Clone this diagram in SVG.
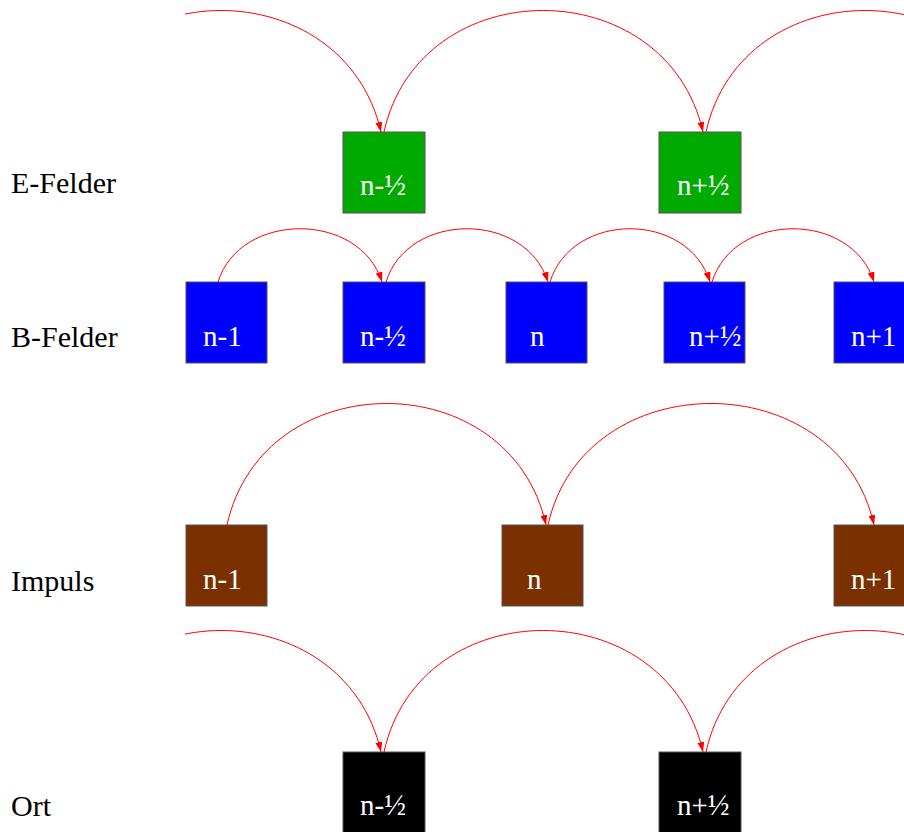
<svg xmlns="http://www.w3.org/2000/svg" width="904" height="832" viewBox="0 0 904 832">
<style>
text{font-family:'Liberation Serif','Times New Roman',Tinos,'DejaVu Serif',serif;font-size:30px}
.row{fill:#000}
.lbl{fill:#fff;font-size:29px}
.box{stroke:#555;stroke-width:1}
.e{fill:#00aa00}
.b{fill:#0000ff}
.p{fill:#7b3000}
.o{fill:#000}
.edge{fill:none;stroke:#ff0000;stroke-width:1;marker-end:url(#ah)}
</style>
<defs>
<marker id="ah" markerUnits="userSpaceOnUse" markerWidth="10" markerHeight="7" refX="10" refY="3.5" orient="auto">
<path d="M0,0 L10,3.5 L0,7 z" fill="#ff0000"/>
</marker>
<clipPath id="leftclip"><rect x="185" y="0" width="719" height="832"/></clipPath>
<clipPath id="bclip4"><rect x="664" y="282" width="82" height="82"/></clipPath>
</defs>
<rect width="904" height="832" fill="#fff"/>

<g id="row-labels">
<text class="row" x="11" y="193">E-Felder</text>
<text class="row" x="11" y="347">B-Felder</text>
<text class="row" x="11" y="591">Impuls</text>
<text class="row" x="11" y="816">Ort</text>
</g>

<g id="E_nm"><rect class="box e" x="343" y="132" width="82" height="81"/><text class="lbl" x="360" y="195">n-½</text></g>
<g id="E_np"><rect class="box e" x="659" y="132" width="82" height="81"/><text class="lbl" x="677" y="195">n+½</text></g>

<g id="B_n1m"><rect class="box b" x="186" y="282" width="81" height="81"/><text class="lbl" x="203" y="346">n-1</text></g>
<g id="B_nm"><rect class="box b" x="343" y="282" width="82" height="81"/><text class="lbl" x="360" y="346">n-½</text></g>
<g id="B_n"><rect class="box b" x="506" y="282" width="81" height="81"/><text class="lbl" x="530" y="346">n</text></g>
<g id="B_np"><rect class="box b" x="664" y="282" width="81" height="81"/><text class="lbl" x="689" y="346" clip-path="url(#bclip4)">n+½</text></g>
<g id="B_n1p"><rect class="box b" x="834" y="282" width="81" height="81"/><text class="lbl" x="851" y="346">n+1</text></g>

<g id="P_n1m"><rect class="box p" x="186" y="525" width="81" height="81"/><text class="lbl" x="203" y="589">n-1</text></g>
<g id="P_n"><rect class="box p" x="502" y="525" width="81" height="81"/><text class="lbl" x="527" y="589">n</text></g>
<g id="P_n1p"><rect class="box p" x="834" y="525" width="81" height="81"/><text class="lbl" x="851" y="589">n+1</text></g>

<g id="O_nm"><rect class="box o" x="343" y="752" width="82" height="81"/><text class="lbl" x="360" y="815">n-½</text></g>
<g id="O_np"><rect class="box o" x="659" y="752" width="82" height="81"/><text class="lbl" x="677" y="815">n+½</text></g>

<g id="connectors">
<path class="edge" clip-path="url(#leftclip)" d="M62,132 C98,-30 344,-30 381,132"/>
<path class="edge" d="M384,132 C420,-30 666,-30 703,132"/>
<path class="edge" d="M706,132 C742,-30 988,-30 1025,132"/>

<path class="edge" d="M218,282 C240,211 360,211 382,282"/>
<path class="edge" d="M386,282 C408,211 526,211 548,282"/>
<path class="edge" d="M550,282 C572,211 688,211 710,282"/>
<path class="edge" d="M712,282 C734,211 852,211 874,282"/>

<path class="edge" d="M227,525 C263,363 510,363 546,525"/>
<path class="edge" d="M548,525 C584,363 838,363 874,525"/>

<path class="edge" clip-path="url(#leftclip)" d="M62,752 C98,590 344,590 381,752"/>
<path class="edge" d="M384,752 C420,590 666,590 703,752"/>
<path class="edge" d="M706,752 C742,590 988,590 1025,752"/>
</g>
</svg>
